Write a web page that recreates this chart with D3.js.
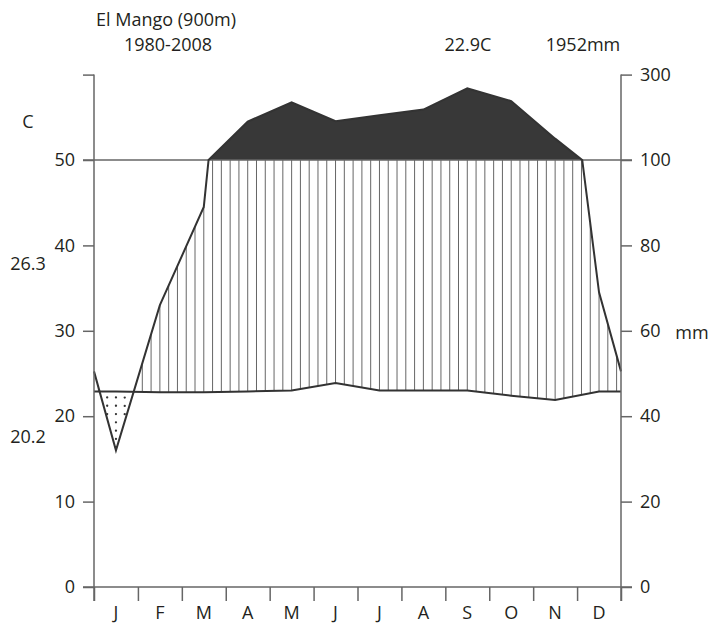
<!DOCTYPE html>
<html><head><meta charset="utf-8">
<script src="https://cdn.jsdelivr.net/npm/d3@7"></script>
<style>
html,body{margin:0;padding:0;background:#fff;}
text{font-family:"Open Sans",sans-serif;fill:#231f20;}
</style></head>
<body>
<svg id="chart" width="715" height="625"></svg>
<script>
// ---- data ----
const months = ["J","F","M","A","M","J","J","A","S","O","N","D"];
const temperature = [22.9,22.8,22.8,22.9,23.0,23.9,23.0,23.0,23.0,22.4,21.9,22.9];
const precipitation = [32,66,89,190,235,191,205,218,268,238,150,69];
const tempTicks = [0,10,20,30,40,50,60];
const precipTicks = [0,20,40,60,80,100,300];
const titleLines = ["El Mango (900m)","1980-2008"];
const meanTempLabel = "22.9C";
const totalPrecipLabel = "1952mm";
const maxWarmLabel = "26.3";
const minColdLabel = "20.2";

// ---- layout ----
const L = 94, R = 621, Y0 = 587, Y50 = 160;
const svg = d3.select("#chart");
const x = d3.scaleLinear().domain([-0.5, 11.5]).range([L, R]);
const yT = d3.scaleLinear().domain([0, 50]).range([Y0, Y50]);
const yP = d3.scaleLinear().domain([0, 100, 300]).range([yT(0), yT(50), yT(60)]);

// extended series (wrap half a month at each side)
const wrapT = (temperature[11] + temperature[0]) / 2;
const wrapP = (precipitation[11] + precipitation[0]) / 2;
const ext = [{i:-0.5, t:wrapT, p:wrapP}]
  .concat(months.map((m, i) => ({i, t:temperature[i], p:precipitation[i]})))
  .concat([{i:11.5, t:wrapT, p:wrapP}]);

function interp(i, key) {
  for (let k = 0; k < ext.length - 1; k++) {
    const a = ext[k], b = ext[k+1];
    if (i >= a.i && i <= b.i) {
      const f = (i - a.i) / (b.i - a.i);
      return a[key] + f * (b[key] - a[key]);
    }
  }
  return ext[ext.length-1][key];
}

// precipitation points with crossings of 100 inserted
const pPts = [];
for (let k = 0; k < ext.length; k++) {
  const a = ext[k];
  pPts.push({i:a.i, p:a.p});
  if (k < ext.length - 1) {
    const b = ext[k+1];
    if ((a.p - 100) * (b.p - 100) < 0) {
      const f = (100 - a.p) / (b.p - a.p);
      pPts.push({i:a.i + f * (b.i - a.i), p:100});
    }
  }
}

const axisColor = "#666";

// dark area (precipitation above 100 mm)
svg.append("path")
  .datum(pPts)
  .attr("d", d3.area()
    .x(d => x(d.i))
    .y0(yT(50))
    .y1(d => Math.min(yP(d.p), yT(50))))
  .attr("fill", "#383838")
  .attr("stroke", "none");

// vertical hatching (humid period)
const nHatch = 60;
const hatch = d3.range(nHatch).map(k => {
  const i = -0.5 + (k + 0.5) * 12 / nHatch;
  return {i, t:interp(i, "t"), p:interp(i, "p")};
}).filter(d => yP(d.p) < yT(d.t));
svg.append("g").selectAll("line").data(hatch).join("line")
  .attr("x1", d => x(d.i)).attr("x2", d => x(d.i))
  .attr("y1", d => yT(d.t))
  .attr("y2", d => Math.max(yP(d.p), yT(50)))
  .attr("stroke", "#666").attr("stroke-width", 1);

// dotted area (dry period)
const dots = [];
for (let k = 0; k < nHatch; k++) {
  const i = -0.5 + (k + 0.5) * 12 / nHatch;
  const t = interp(i, "t"), p = interp(i, "p");
  const ty = yT(t), py = yP(p);
  if (py > ty) {
    for (let yy = ty + 6; yy < py - 3; yy += 8.3) dots.push({i, yy});
  }
}
svg.append("g").selectAll("circle").data(dots).join("circle")
  .attr("cx", d => x(d.i)).attr("cy", d => d.yy).attr("r", 1.15)
  .attr("fill", "#333");

// 100 mm / 50 C horizontal line
svg.append("line").attr("x1", L - 11).attr("x2", R + 11)
  .attr("y1", yT(50)).attr("y2", yT(50))
  .attr("stroke", axisColor).attr("stroke-width", 1.5);

// temperature line
svg.append("path").datum(ext)
  .attr("d", d3.line().x(d => x(d.i)).y(d => yT(d.t)))
  .attr("fill", "none").attr("stroke", "#333").attr("stroke-width", 2);

// precipitation line
svg.append("path").datum(pPts)
  .attr("d", d3.line().x(d => x(d.i)).y(d => yP(d.p)))
  .attr("fill", "none").attr("stroke", "#333").attr("stroke-width", 2);

// axes
const fs = 18;
const gL = svg.append("g").attr("transform", `translate(${L},0)`)
  .call(d3.axisLeft(yT).tickValues(tempTicks).tickFormat(d => d === 60 ? "" : d)
    .tickSize(11).tickSizeOuter(0).tickPadding(8));
const gR = svg.append("g").attr("transform", `translate(${R},0)`)
  .call(d3.axisRight(yP).tickValues(precipTicks)
    .tickSize(11).tickSizeOuter(0).tickPadding(8));
const xTickVals = d3.range(13).map(k => k - 0.5);
const gB = svg.append("g").attr("transform", `translate(0,${Y0})`)
  .call(d3.axisBottom(x).tickValues(xTickVals).tickFormat("")
    .tickSize(14).tickSizeOuter(0));
[gL, gR, gB].forEach(g => {
  g.select(".domain").remove();
  g.selectAll("line").attr("stroke", axisColor).attr("stroke-width", 1.5);
  g.selectAll("text").style("font-family", "'Open Sans',sans-serif")
    .style("font-size", fs + "px").attr("fill", "#231f20");
});
// axis lines
svg.append("line").attr("x1", L).attr("x2", L).attr("y1", yT(60)).attr("y2", Y0 + 14)
  .attr("stroke", axisColor).attr("stroke-width", 1.5);
svg.append("line").attr("x1", R).attr("x2", R).attr("y1", yT(60)).attr("y2", Y0 + 14)
  .attr("stroke", axisColor).attr("stroke-width", 1.5);
svg.append("line").attr("x1", L - 11).attr("x2", R + 11).attr("y1", Y0).attr("y2", Y0)
  .attr("stroke", axisColor).attr("stroke-width", 1.5);

// month labels
svg.append("g").selectAll("text").data(months).join("text")
  .attr("x", (d, i) => x(i)).attr("y", 619)
  .attr("text-anchor", "middle").style("font-size", fs + "px").text(d => d);

// titles and annotations
svg.append("text").attr("x", 166).attr("y", 26).attr("text-anchor", "middle")
  .style("font-size", fs + "px").text(titleLines[0]);
svg.append("text").attr("x", 168).attr("y", 51).attr("text-anchor", "middle")
  .style("font-size", fs + "px").text(titleLines[1]);
svg.append("text").attr("x", 468).attr("y", 51).attr("text-anchor", "middle")
  .style("font-size", fs + "px").text(meanTempLabel);
svg.append("text").attr("x", 583).attr("y", 51).attr("text-anchor", "middle")
  .style("font-size", fs + "px").text(totalPrecipLabel);
svg.append("text").attr("x", 28).attr("y", 128).attr("text-anchor", "middle")
  .style("font-size", fs + "px").text("C");
svg.append("text").attr("x", 28).attr("y", 270).attr("text-anchor", "middle")
  .style("font-size", fs + "px").text(maxWarmLabel);
svg.append("text").attr("x", 28).attr("y", 443).attr("text-anchor", "middle")
  .style("font-size", fs + "px").text(minColdLabel);
svg.append("text").attr("x", 692).attr("y", 339).attr("text-anchor", "middle")
  .style("font-size", fs + "px").text("mm");
</script>
</body></html>
